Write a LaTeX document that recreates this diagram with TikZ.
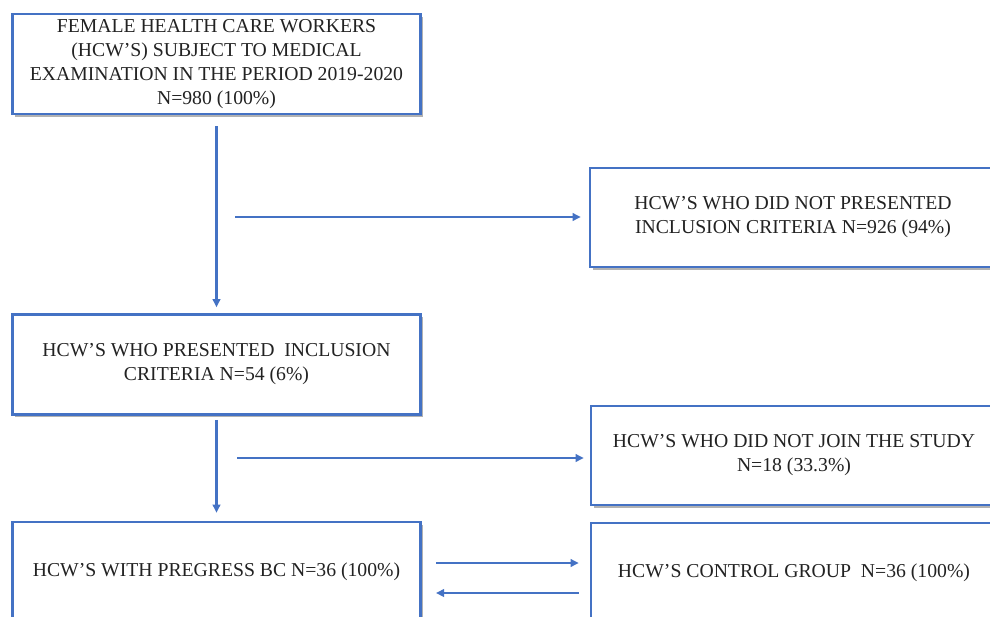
\documentclass[tikz,border=0pt]{standalone}
\usepackage{fontspec}
\setmainfont{Liberation Serif}
\usetikzlibrary{arrows.meta,shadows}
\definecolor{boxblue}{HTML}{4472C4}
\definecolor{txt}{HTML}{222222}
\begin{document}
\begin{tikzpicture}[x=1pt,y=-1pt,
  box/.style={draw=boxblue,line width=2.6pt,fill=white,rectangle,align=center,
    font=\fontsize{19.7}{24}\selectfont,text=txt,inner sep=0pt,
    drop shadow={shadow xshift=2.5pt,shadow yshift=-2.5pt,fill=black,opacity=0.3}},
  arr/.style={draw=boxblue,line width=2.2pt,-{Triangle[length=8pt,width=7.5pt]}}]
\clip (0,0) rectangle (990,616);
\useasboundingbox (0,0) rectangle (990,616);
\node[box,minimum width=408pt,minimum height=100pt] (b1) at (216.5,64)
  {FEMALE HEALTH CARE WORKERS\\(HCW'S) SUBJECT TO MEDICAL\\EXAMINATION IN THE PERIOD 2019-2020\\N=980 (100\%)};
\node[box,minimum width=406pt,minimum height=99pt] (r1) at (793,217.5)
  {HCW'S WHO DID NOT PRESENTED\\INCLUSION CRITERIA N=926 (94\%)};
\node[box,minimum width=408pt,minimum height=100pt] (b2) at (216.5,364.5)
  {HCW'S WHO PRESENTED\ \ INCLUSION\\CRITERIA N=54 (6\%)};
\node[box,minimum width=406pt,minimum height=99pt] (r2) at (794,455.5)
  {HCW'S WHO DID NOT JOIN THE STUDY\\N=18 (33.3\%)};
\node[box,minimum width=408pt,minimum height=100pt] (b3) at (216.5,572)
  {HCW'S WITH PREGRESS BC N=36 (100\%)};
\node[box,minimum width=406pt,minimum height=100pt] (r3) at (794,573)
  {HCW'S CONTROL GROUP\ \ N=36 (100\%)};
\coordinate (h1) at (235,217);
\coordinate (h2) at (237,458);
\draw[arr,shorten <=11pt,shorten >=6pt] (b1.south) -- (b2.north);
\draw[arr,shorten <=4pt,shorten >=8pt] (b2.south) -- (b3.north);
\draw[arr,shorten >=8pt] (h1) -- (h1 -| r1.west);
\draw[arr,shorten >=6pt] (h2) -- (h2 -| r2.west);
\coordinate (d1) at (436,563);
\coordinate (d2) at (436,593);
\draw[arr,shorten >=11pt] (d1) -- (d1 -| r3.west);
\draw[arr,shorten <=11pt] (d2 -| r3.west) -- (d2);
\end{tikzpicture}
\end{document}
